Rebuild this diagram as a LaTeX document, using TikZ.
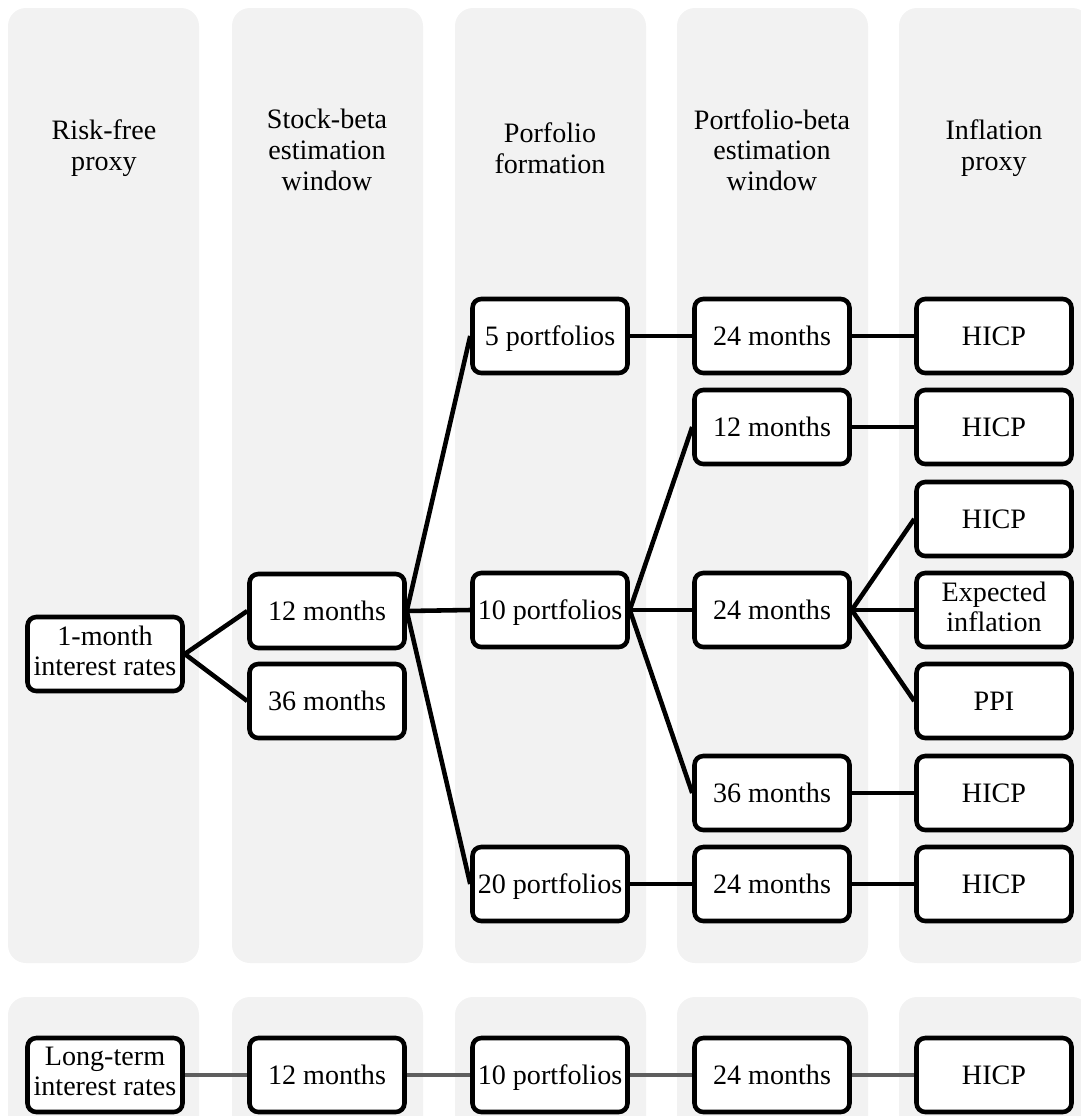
\documentclass[tikz,border=0pt]{standalone}
\usepackage{fontspec}
\setmainfont{Liberation Serif}
\definecolor{panelgrey}{HTML}{F2F2F2}
\definecolor{linkgrey}{HTML}{5E5E5E}
\newcommand\boxstrut{\rule[-3.9pt]{0pt}{18.4pt}}
\tikzset{
  panel/.style={fill=panelgrey, rounded corners=0.36cm},
  head/.style={align=center, font=\fontsize{16}{17.5}\selectfont},
  box/.style={draw, line width=2.6pt, rounded corners=5pt, fill=white,
    minimum width=3.1cm, minimum height=1.48cm, inner sep=1pt,
    align=center, font=\fontsize{16}{17}\selectfont,
    execute at begin node=\boxstrut, execute at end node=\boxstrut},
  link/.style={line width=2.6pt},
  greylink/.style={line width=2.6pt, linkgrey}
}
\begin{document}
\begin{tikzpicture}[x=0.02cm, y=-0.02cm]
  \useasboundingbox (0, 0) rectangle (1080, 1116);

  % Panels
  \foreach \px in {8, 232, 455, 677, 899} {
    \fill [panel] (\px, 8) rectangle ++(191, 955);
    \fill [panel] (\px, 997) rectangle ++(191, 160);
  }

  % Headers
  \node [head] (hrisk) at (104, 148) {Risk-free\\proxy};
  \node [head] (hstock) at (327, 150) {Stock-beta\\estimation\\window};
  \node [head] (hform) at (550, 148) {Porfolio\\formation};
  \node [head] (hport) at (772, 150) {Portfolio-beta\\estimation\\window};
  \node [head] (hinfl) at (994, 148) {Inflation\\proxy};

  % Risk-free proxy
  \node [box] (onem) at (105, 654) {1-month\\interest rates};

  % Stock-beta window
  \node [box] (s12) at (327, 611) {12 months};
  \node [box] (s36) at (327, 701) {36 months};

  % Portfolio formation
  \node [box] (p5) at (550, 336) {5 portfolios};
  \node [box] (p10) at (550, 610) {10 portfolios};
  \node [box] (p20) at (550, 884) {20 portfolios};

  % Portfolio-beta window
  \node [box] (w24a) at (772, 336) {24 months};
  \node [box] (w12) at (772, 427) {12 months};
  \node [box] (w24b) at (772, 610) {24 months};
  \node [box] (w36) at (772, 793) {36 months};
  \node [box] (w24c) at (772, 884) {24 months};

  % Inflation proxy
  \node [box] (i1) at (994, 336) {HICP};
  \node [box] (i2) at (994, 427) {HICP};
  \node [box] (i3) at (994, 519) {HICP};
  \node [box] (iexp) at (994, 610) {Expected\\inflation};
  \node [box] (ippi) at (994, 701) {PPI};
  \node [box] (i4) at (994, 793) {HICP};
  \node [box] (i5) at (994, 884) {HICP};

  % Edges
  \draw [link] (onem.east) -- (s12.west);
  \draw [link] (onem.east) -- (s36.west);
  \foreach \t in {p5, p10, p20}
    \draw [link] (s12.east) -- (\t.west);
  \draw [link] (p5.east) -- (w24a.west);
  \foreach \t in {w12, w24b, w36}
    \draw [link] (p10.east) -- (\t.west);
  \draw [link] (p20.east) -- (w24c.west);
  \draw [link] (w24a.east) -- (i1.west);
  \draw [link] (w12.east) -- (i2.west);
  \foreach \t in {i3, iexp, ippi}
    \draw [link] (w24b.east) -- (\t.west);
  \draw [link] (w36.east) -- (i4.west);
  \draw [link] (w24c.east) -- (i5.west);

  % Long-term row
  \node [box] (lterm) at (105, 1075) {Long-term\\interest rates};
  \node [box] (l12) at (327, 1075) {12 months};
  \node [box] (l10) at (550, 1075) {10 portfolios};
  \node [box] (l24) at (772, 1075) {24 months};
  \node [box] (lhicp) at (994, 1075) {HICP};
  \draw [greylink] (lterm.east) -- (l12.west);
  \draw [greylink] (l12.east) -- (l10.west);
  \draw [greylink] (l10.east) -- (l24.west);
  \draw [greylink] (l24.east) -- (lhicp.west);
\end{tikzpicture}
\end{document}
